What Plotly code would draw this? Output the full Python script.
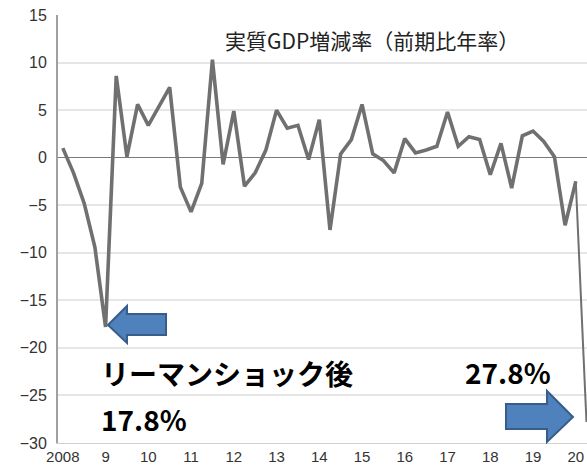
import plotly.graph_objects as go

# ---- data ----
years = list(range(2008, 2021))
quarters = [f"{y}Q{q}" for y in years for q in (1, 2, 3, 4)][:50]
gdp_growth = [1.0, -1.6, -4.8, -9.4,
              -17.8, 8.6, 0.1, 5.6,
              3.4, 5.4, 7.4, -3.1,
              -5.7, -2.7, 10.3, -0.7,
              4.9, -3.0, -1.6, 0.8,
              5.0, 3.1, 3.4, -0.2,
              4.0, -7.6, 0.4, 1.9,
              5.6, 0.4, -0.3, -1.6,
              2.0, 0.5, 0.8, 1.2,
              4.8, 1.2, 2.2, 1.9,
              -1.8, 1.5, -3.2, 2.3,
              2.8, 1.7, 0.1, -7.1,
              -2.5, -27.8]
tick_quarters = [f"{y}Q1" for y in years]
tick_labels = ["2008", "9", "10", "11", "12", "13", "14", "15", "16", "17", "18", "19", "20"]
title_text = "実質GDP増減率（前期比年率）"

# ---- layout helpers (pixel -> paper) ----
W, H = 587, 468
L, R, T, B = 58, 0, 15, 25
PW, PH = W - L - R, H - T - B


def px(x):
    return (x - L) / PW


def py(y):
    return (H - B - y) / PH


def arrow_path(pts):
    return "M " + " L ".join(f"{px(x):.4f},{py(y):.4f}" for x, y in pts) + " Z"


fig = go.Figure()
fig.add_trace(go.Scatter(x=quarters[:-1], y=gdp_growth[:-1], mode="lines",
                         line=dict(color="#707070", width=3.6), showlegend=False))
fig.add_trace(go.Scatter(x=quarters[-2:], y=gdp_growth[-2:], mode="lines",
                         line=dict(color="#707070", width=2), showlegend=False))

left_arrow = [(108, 325), (127, 306), (127, 314), (166, 314), (166, 335),
              (127, 335), (127, 343)]
right_arrow = [(573, 417), (547, 391), (547, 404), (506, 404), (506, 429),
               (547, 429), (547, 442)]
shapes = [dict(type="path", xref="paper", yref="paper", path=arrow_path(p),
               fillcolor="#4f81bd", line=dict(color="#385d8a", width=2))
          for p in (left_arrow, right_arrow)]

jp = "Noto Sans CJK JP"
annotations = [
    dict(text=title_text, x=px(372), y=py(40), xref="paper", yref="paper",
         showarrow=False, xanchor="center", yanchor="middle",
         font=dict(family=jp, size=21, color="#222222")),
    dict(text="<b>リーマンショック後</b>", x=px(99), y=py(373), xref="paper", yref="paper",
         showarrow=False, xanchor="left", yanchor="middle",
         font=dict(family=jp, size=28, color="#000000")),
    dict(text="<b>27.8%</b>", x=px(463), y=py(372), xref="paper", yref="paper",
         showarrow=False, xanchor="left", yanchor="middle",
         font=dict(family=jp, size=28, color="#000000")),
    dict(text="<b>17.8%</b>", x=px(99), y=py(419), xref="paper", yref="paper",
         showarrow=False, xanchor="left", yanchor="middle",
         font=dict(family=jp, size=28, color="#000000")),
]

fig.update_layout(
    width=W, height=H,
    margin=dict(l=L, r=R, t=T, b=B),
    paper_bgcolor="white", plot_bgcolor="white",
    shapes=shapes, annotations=annotations,
    xaxis=dict(type="category", categoryorder="array", categoryarray=quarters,
               range=[-0.45, 49.05], tickmode="array", tickvals=tick_quarters,
               ticktext=tick_labels, showgrid=False, zeroline=False,
               showline=True, linecolor="#d0d0d0", linewidth=1, ticks="",
               tickfont=dict(family="Liberation Sans", size=15, color="#333333")),
    yaxis=dict(range=[-30, 15], dtick=5, tick0=0, showgrid=True, gridcolor="#e6e6e6",
               gridwidth=1.5, zeroline=True, zerolinecolor="#7a7a7a", zerolinewidth=1,
               showline=True, linecolor="#a0a0a0", linewidth=2, ticks="",
               ticklabelstandoff=6,
               tickfont=dict(family="Liberation Sans", size=16, color="#333333")),
)

fig.write_html("out.html", config={"displayModeBar": False},
               post_script="document.body.style.margin='0';document.body.style.overflow='hidden';")
